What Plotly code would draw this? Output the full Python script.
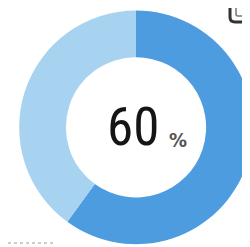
import plotly.graph_objects as go

labels = ["達成", "未達成"]
values = [60, 40]
colors = ["#4e9ce0", "#a7d3f1"]
center_value = "60"
center_unit = "%"

# Note: the page body adds an 8px offset, so coordinates below are shifted by -8
fig = go.Figure(go.Pie(
    labels=labels, values=values, hole=0.6, sort=False,
    direction="clockwise", rotation=0,
    marker=dict(colors=colors, line=dict(width=0)),
    textinfo="none", hoverinfo="label+percent", showlegend=False,
    domain=dict(x=[0.044, 0.98], y=[0.044, 0.99]),
))

fig.add_annotation(x=125, y=119, xref="x", yref="y", text=center_value,
                   showarrow=False, xanchor="center", yanchor="middle",
                   font=dict(family="Liberation Sans Narrow, Roboto Condensed, DejaVu Sans Condensed",
                             size=53, color="#151515"))
fig.add_annotation(x=159, y=132, xref="x", yref="y", text="<b>" + center_unit + "</b>",
                   showarrow=False, xanchor="left", yanchor="middle",
                   font=dict(family="Liberation Sans Narrow, DejaVu Sans Condensed",
                             size=20, color="#555555"))

# surrounding fragments
fig.add_shape(type="path", xref="x", yref="y",
              path="M 222 -10 L 222 9 Q 222 14 227 14 L 250 14",
              line=dict(color="#333333", width=3))
fig.add_shape(type="path", xref="x", yref="y",
              path="M 228 -10 L 228 6 Q 228 8 230 8 L 250 8",
              line=dict(color="#777777", width=1.5))
fig.add_shape(type="line", xref="x", yref="y", x0=0, x1=48, y0=235, y1=235,
              line=dict(color="#9a9a9a", width=1, dash="dot"))
fig.add_shape(type="line", xref="x", yref="y", x0=240, x1=240, y0=180, y1=210,
              line=dict(color="#c8b89a", width=3))

fig.update_xaxes(range=[0, 250], visible=False, fixedrange=True)
fig.update_yaxes(range=[247, 0], visible=False, fixedrange=True)
fig.update_layout(width=250, height=247, margin=dict(l=0, r=0, t=0, b=0),
                  paper_bgcolor="white", plot_bgcolor="rgba(0,0,0,0)")
fig.write_html("out.html")
